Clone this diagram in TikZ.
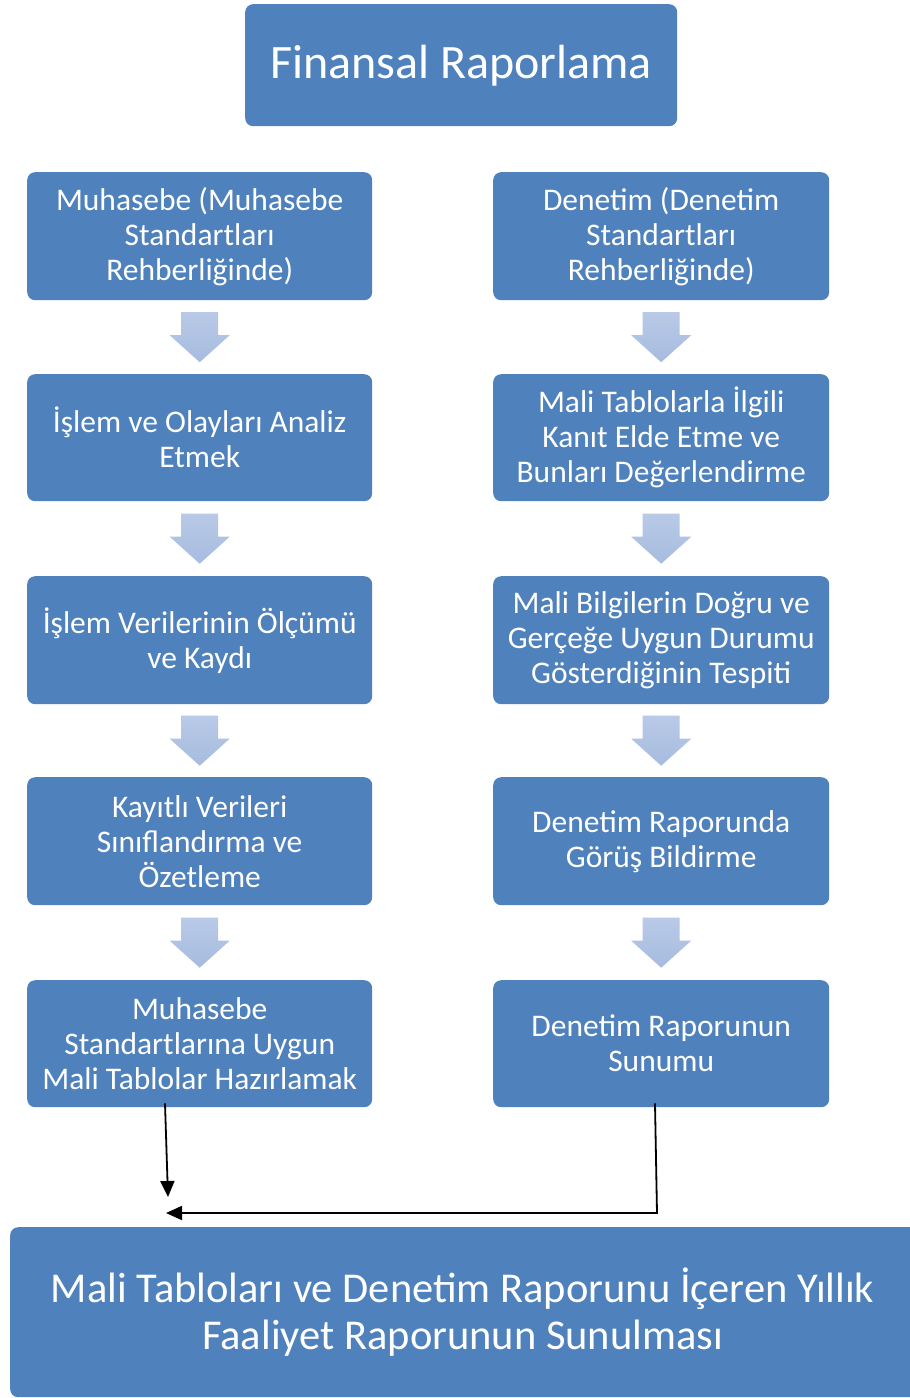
\documentclass[tikz,border=0pt]{standalone}
\usepackage{fontspec}
\setmainfont{Carlito}
\usetikzlibrary{calc,arrows.meta}
\definecolor{boxblue}{HTML}{4F81BD}
\definecolor{arrowtop}{HTML}{B9CAE7}
\definecolor{arrowbot}{HTML}{A6BBDF}
\begin{document}
\begin{tikzpicture}[x=1pt,y=-1pt,
  blue box/.style={fill=boxblue, rounded corners=8pt, text=white, align=center,
    inner sep=0pt, anchor=north west},
  stepbox/.style={blue box, font=\fontsize{31.5}{35}\selectfont},
  link/.style={draw=black, line width=1.8pt, -{Triangle[length=16pt,width=14pt]}}]
  \useasboundingbox (0,0) rectangle (910,1398);
  \fill[white] (0,0) rectangle (910,1398);

  % title
  \node[blue box, minimum width=432pt, minimum height=122pt,
        font=\fontsize{48}{56}\selectfont] (title) at (245,4) {Finansal Raporlama};

  % accounting column
  \node[stepbox, minimum width=345pt, minimum height=128pt] (m1) at (27,172)
    {Muhasebe (Muhasebe\\Standartları\\Rehberliğinde)};
  \node[stepbox, minimum width=345pt, minimum height=127pt] (m2) at (27,374)
    {İşlem ve Olayları Analiz\\Etmek};
  \node[stepbox, minimum width=345pt, minimum height=128pt] (m3) at (27,576)
    {İşlem Verilerinin Ölçümü\\ve Kaydı};
  \node[stepbox, minimum width=345pt, minimum height=128pt] (m4) at (27,777)
    {Kayıtlı Verileri\\Sınıflandırma ve\\Özetleme};
  \node[stepbox, minimum width=345pt, minimum height=127pt] (m5) at (27,980)
    {Muhasebe\\Standartlarına Uygun\\Mali Tablolar Hazırlamak};

  % audit column
  \node[stepbox, minimum width=336pt, minimum height=128pt] (d1) at (493,172)
    {Denetim (Denetim\\Standartları\\Rehberliğinde)};
  \node[stepbox, minimum width=336pt, minimum height=127pt] (d2) at (493,374)
    {Mali Tablolarla İlgili\\Kanıt Elde Etme ve\\Bunları Değerlendirme};
  \node[stepbox, minimum width=336pt, minimum height=128pt] (d3) at (493,576)
    {Mali Bilgilerin Doğru ve\\Gerçeğe Uygun Durumu\\Gösterdiğinin Tespiti};
  \node[stepbox, minimum width=336pt, minimum height=128pt] (d4) at (493,777)
    {Denetim Raporunda\\Görüş Bildirme};
  \node[stepbox, minimum width=336pt, minimum height=127pt] (d5) at (493,980)
    {Denetim Raporunun\\Sunumu};

  % final report
  \node[blue box, minimum width=915pt, minimum height=170pt,
        font=\fontsize{42.5}{47}\selectfont] (final) at (10,1227)
    {\hspace*{-10pt}Mali Tabloları ve Denetim Raporunu İçeren Yıllık\\\hspace*{-10pt}Faaliyet Raporunun Sunulması};

  % block arrows between consecutive steps
  \foreach \a/\b in {m1/m2,m2/m3,m3/m4,m4/m5,d1/d2,d2/d3,d3/d4,d4/d5}{
    \coordinate (mid) at ($(\a.south)!0.5!(\b.north)$);
    \shade[top color=arrowtop, bottom color=arrowbot]
      ($(mid)+(-18.5,-25)$) -- ($(mid)+(18.5,-25)$) -- ($(mid)+(18.5,-2)$)
      -- ($(mid)+(30,-2)$) -- ($(mid)+(0,25)$) -- ($(mid)+(-30,-2)$)
      -- ($(mid)+(-18.5,-2)$) -- cycle;
  }

  % connectors towards the annual report
  \coordinate (mtop) at ($(m5.south west)+(138,-4)$);
  \coordinate (leftend) at (168,1197);
  \coordinate (dtop) at ($(d5.south west)+(162,-4)$);
  \coordinate (corner) at (657,1213);
  \coordinate (rightend) at (166,1213);
  \draw[link] (mtop) -- (leftend);
  \draw[link] (dtop) -- (corner) -- (rightend);
\end{tikzpicture}
\end{document}
